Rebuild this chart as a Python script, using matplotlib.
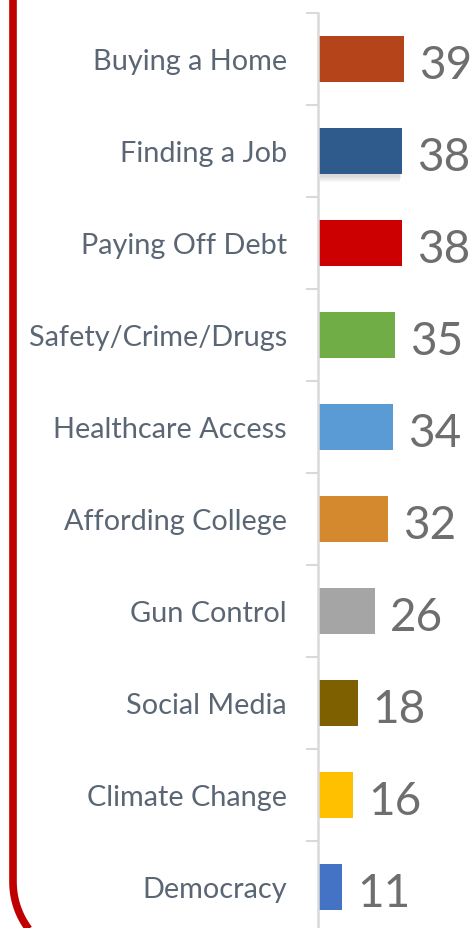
import matplotlib
matplotlib.use("Agg")
import matplotlib.pyplot as plt
from matplotlib.lines import Line2D
from matplotlib.patches import Rectangle
import numpy as np

issues = ["Buying a Home", "Finding a Job", "Paying Off Debt", "Safety/Crime/Drugs",
          "Healthcare Access", "Affording College", "Gun Control", "Social Media",
          "Climate Change", "Democracy"]
values = [39, 38, 38, 35, 34, 32, 26, 18, 16, 11]
colors = ["#B5441A", "#2E5A8C", "#CC0000", "#70AD47", "#5B9BD5",
          "#D4892F", "#A5A5A5", "#7F6000", "#FFC000", "#4472C4"]

W, H = 475, 929
fig = plt.figure(figsize=(W / 100, H / 100), dpi=100)

# red frame on the left: straight edge, rounded corner at the bottom
r = 78
t = np.linspace(0, np.pi / 2, 60)
fx = np.concatenate([[13], 13 + r - r * np.cos(t)])
fy = np.concatenate([[-20], 883 + r * np.sin(t)])
fig.lines.append(Line2D(fx / W, 1 - fy / H, transform=fig.transFigure,
                        color="#C00000", linewidth=5.5, solid_capstyle="butt"))

# axes: spine at x=318px, rows 92px apart starting at y=14px
ax = fig.add_axes([318 / W, (H - 934) / H, (W - 318) / W, 920 / H])
ax.patch.set_alpha(0)
y = np.arange(len(issues))

# soft shadow under "Finding a Job"
for k in range(6):
    ax.add_patch(Rectangle((0.5 + k * 0.1, 1 - 0.25 + 0.03 + k * 0.012), values[1] - 0.8 - k * 0.2, 0.5,
                           facecolor="#000000", alpha=0.025, edgecolor="none", zorder=1))
ax.barh(y, values, height=0.5, color=colors, zorder=2)

ax.set_xlim(0, (W - 318) / 2.2)
ax.set_ylim(len(issues) - 0.5, -0.5)

for s in ["top", "right", "bottom"]:
    ax.spines[s].set_visible(False)
ax.spines["left"].set_color("#D9D9D9")
ax.spines["left"].set_linewidth(1.8)
ax.set_xticks([])
ax.set_yticks(np.arange(-0.5, len(issues) + 0.5, 1))
ax.set_yticklabels([])
ax.tick_params(axis="y", length=9, width=1.5, color="#D9D9D9", direction="out")

for yi, name in zip(y, issues):
    ax.annotate(name, (0, yi), xytext=(-31, -2), textcoords="offset pixels",
                ha="right", va="center", fontsize=20.8, family="Lato", color="#5B6675")

for yi, v in zip(y, values):
    ax.annotate(str(v), (v, yi), xytext=(15, -19), textcoords="offset pixels",
                ha="left", va="baseline", fontsize=33, family="Lato", color="#6E6E6E")

fig.savefig("out.png", dpi=100)
